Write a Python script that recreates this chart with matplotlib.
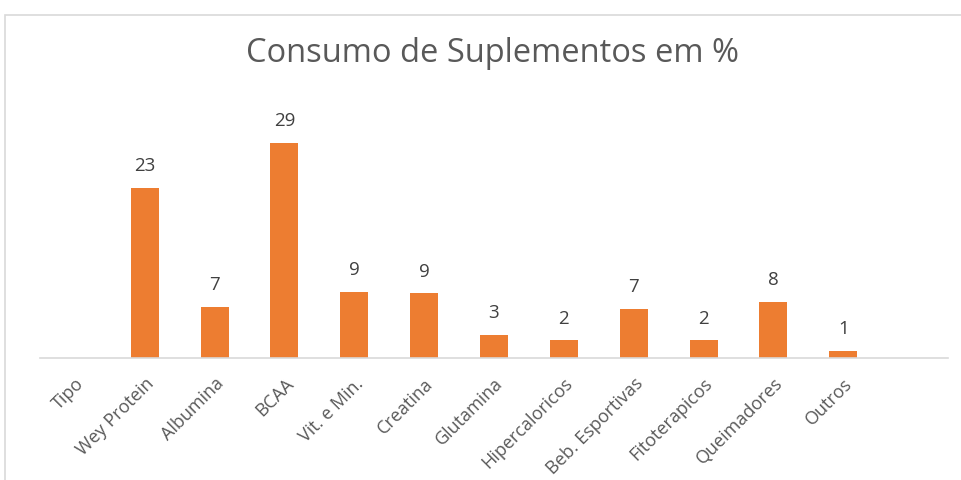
import matplotlib.pyplot as plt
from matplotlib.patches import Rectangle

categorias = ["Tipo", "Wey Protein", "Albumina", "BCAA", "Vit. e Min.", "Creatina",
              "Glutamina", "Hipercaloricos", "Beb. Esportivas", "Fitoterapicos",
              "Queimadores", "Outros", ""]
valores = [None, 22.9, 6.9, 29.0, 8.9, 8.7, 3.1, 2.4, 6.6, 2.4, 7.6, 1.0, None]

laranja = "#ED7D31"
cinza_txt = "#595959"
cinza_linha = "#D9D9D9"

plt.rcParams['font.family'] = ['Open Sans', 'DejaVu Sans']

fig = plt.figure(figsize=(9.62, 4.8), dpi=100)
# moldura do gráfico (estilo Excel)
fig.patches.append(Rectangle((5 / 962, -0.1), 1.2, 1.1 - 15 / 480,
                             transform=fig.transFigure, fill=False,
                             edgecolor=cinza_linha, linewidth=1.2))

ax = fig.add_axes([40 / 962, 1 - 358 / 480, 908 / 962, 260 / 480])

x = list(range(len(categorias)))
alturas = [v if v is not None else 0 for v in valores]
ax.bar(x, alturas, width=0.4, color=laranja, zorder=2)

for xi, v in zip(x, valores):
    if v is not None:
        ax.annotate(f"{v:.0f}", (xi, v), xytext=(0, 9), textcoords="offset points",
                    ha="center", va="bottom", fontsize=13.5, color="#404040")

ax.set_xlim(-0.5, len(categorias) - 0.5)
ax.set_ylim(0, 35)
ax.set_xticks(x)
ax.set_xticklabels(categorias, rotation=45, ha="right", rotation_mode="anchor",
                   fontsize=13, color=cinza_txt)
ax.tick_params(axis="x", length=0, pad=12)
ax.set_yticks([])
for s in ["top", "right", "left"]:
    ax.spines[s].set_visible(False)
ax.spines["bottom"].set_color(cinza_linha)
ax.spines["bottom"].set_linewidth(1.2)

fig.text(493 / 962, 1 - 53 / 480, "Consumo de Suplementos em %", ha="center", va="center",
         fontsize=23.5, color=cinza_txt)

fig.savefig("out.png", dpi=100)
